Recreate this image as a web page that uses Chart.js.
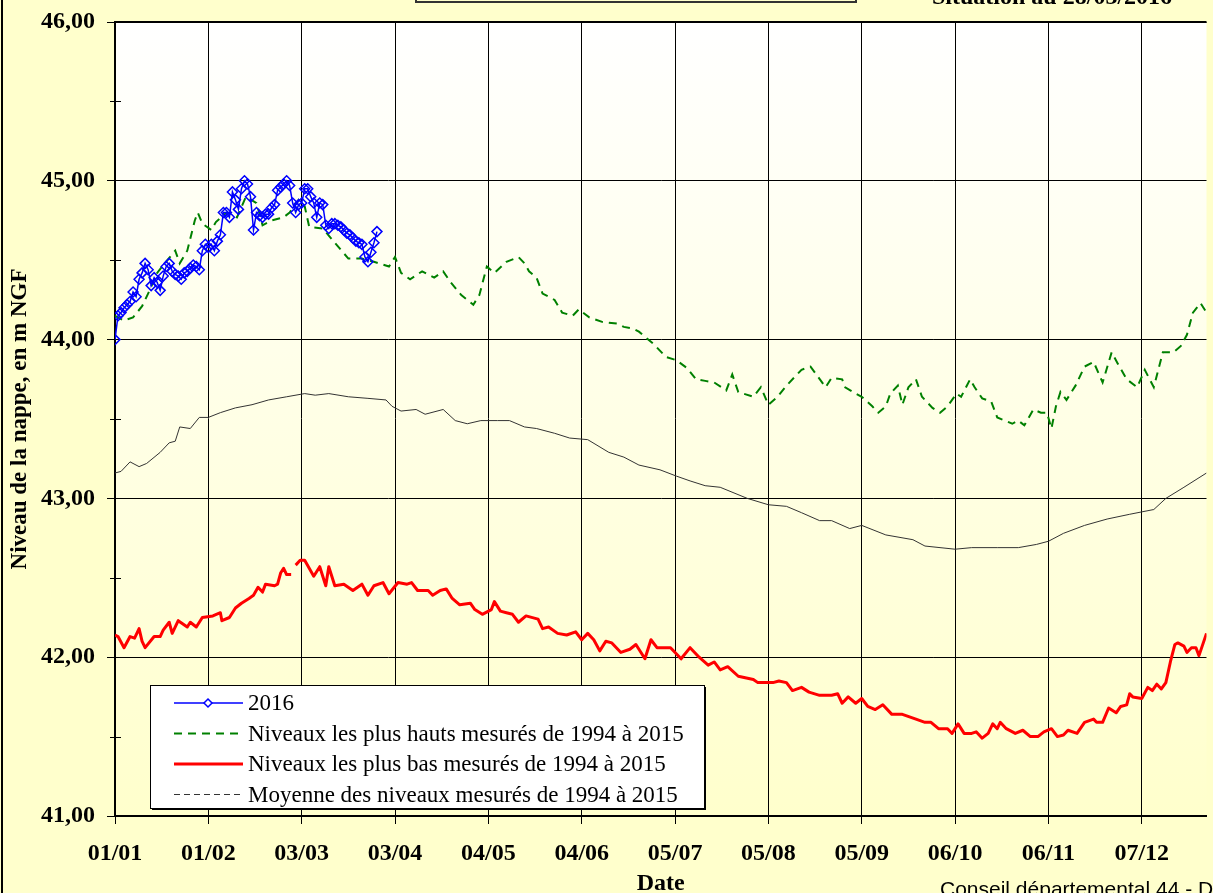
<!DOCTYPE html>
<html>
<head>
<meta charset="utf-8">
<script src="https://cdn.jsdelivr.net/npm/chart.js@4.4.0/dist/chart.umd.min.js"></script>
<style>
	html, body { margin: 0; padding: 0; background: #ffffcc; }
	#wrap { width: 1213px; height: 893px; position: relative; }
</style>
</head>
<body>
<div id="wrap"><canvas id="myChart"></canvas></div>
<script>
// 2016 : un relevé par jour depuis le 01/01 (jusqu'au 28/03)
const niveaux2016 = [
	44.00, 44.15, 44.17, 44.20, 44.22, 44.24, 44.30, 44.27, 44.38, 44.42,
	44.48, 44.44, 44.34, 44.39, 44.36, 44.31, 44.40, 44.46, 44.48, 44.43,
	44.41, 44.40, 44.38, 44.42, 44.43, 44.45, 44.47, 44.46, 44.44, 44.56,
	44.60, 44.58, 44.60, 44.56, 44.62, 44.66, 44.80, 44.80, 44.77, 44.93,
	44.88, 44.82, 44.95, 45.00, 44.98, 44.90, 44.69, 44.80, 44.78, 44.77,
	44.79, 44.79, 44.83, 44.85, 44.94, 44.96, 44.98, 45.00, 44.97, 44.86,
	44.80, 44.85, 44.86, 44.95, 44.95, 44.90, 44.86, 44.77, 44.86, 44.85,
	44.72, 44.70, 44.73, 44.73, 44.72, 44.71, 44.69, 44.67, 44.66, 44.64,
	44.62, 44.61, 44.60, 44.52, 44.49, 44.55, 44.61, 44.68
];

// plus hauts niveaux 1994-2015 (jour de l'année, niveau)
const joursMax = [0, 3, 6, 9, 11.5, 14, 16.5, 20, 21.5, 24, 26.5, 27.5, 29, 32, 33.5, 37, 40.5, 43.5, 47, 49,
	52, 56, 58, 61, 63, 64.5, 69, 73, 77.5, 82, 86, 91, 93, 95, 98, 102, 106, 109, 111.5, 115,
	119, 121, 123.5, 126, 130, 134, 136, 137.5, 140, 142, 146, 148.5, 152, 154, 157.5, 162, 167, 169, 172, 174,
	179, 183, 186.5, 190, 193, 196, 199, 203, 205, 207, 212, 214.5, 217, 220, 223, 225.5, 228, 231, 236, 238,
	241.5, 242.5, 246, 248, 251.5, 253.5, 256, 257.5, 260, 261.5, 263.5, 266, 268, 271.5, 274, 276.5, 279.5, 281, 284, 285.5,
	288, 291, 293, 298, 300, 302, 305, 307.5, 309.5, 311, 312.5, 314, 316, 319, 322, 325, 328, 331, 333, 336,
	339.5, 342, 345, 348, 351.5, 354, 356, 358, 360.5, 362.5];
const niveauxMax = [44.15, 44.12, 44.14, 44.21, 44.31, 44.42, 44.48, 44.56, 44.48, 44.56, 44.75, 44.80, 44.73, 44.69, 44.74, 44.80, 44.77, 44.90, 44.86, 44.72,
	44.75, 44.77, 44.80, 44.88, 44.84, 44.71, 44.70, 44.61, 44.51, 44.51, 44.49, 44.46, 44.52, 44.42, 44.38, 44.43, 44.39, 44.43, 44.36, 44.28,
	44.22, 44.28, 44.46, 44.42, 44.49, 44.52, 44.48, 44.43, 44.39, 44.29, 44.25, 44.17, 44.15, 44.19, 44.14, 44.11, 44.10, 44.08, 44.07, 44.05,
	43.97, 43.89, 43.87, 43.82, 43.75, 43.74, 43.73, 43.68, 43.78, 43.67, 43.64, 43.70, 43.59, 43.64, 43.71, 43.76, 43.81, 43.83, 43.70, 43.76,
	43.75, 43.70, 43.66, 43.64, 43.58, 43.54, 43.58, 43.66, 43.71, 43.59, 43.70, 43.75, 43.64, 43.57, 43.54, 43.58, 43.66, 43.64, 43.75, 43.70,
	43.63, 43.61, 43.51, 43.47, 43.49, 43.46, 43.56, 43.54, 43.54, 43.44, 43.58, 43.67, 43.62, 43.71, 43.83, 43.86, 43.73, 43.92, 43.85, 43.75,
	43.70, 43.81, 43.70, 43.92, 43.92, 43.96, 44.03, 44.17, 44.23, 44.17];

// plus bas niveaux 1994-2015 (null = lacune)
const joursMin = [0, 1, 3, 5, 6.5, 8, 9, 10, 13, 15, 16, 18, 19, 21, 24, 25, 27, 29, 32.5, 35,
	35.5, 38, 40, 42, 44.5, 46, 47.5, 49, 50, 53, 54, 55, 56, 57, 58.5, 59.2, 60, 61.5, 63, 66,
	68, 70, 71, 73, 76, 79, 82, 84, 86, 89, 91, 94, 97, 98.5, 100.5, 104, 105.5, 108, 110, 112,
	114.5, 118, 119.5, 122, 125, 126, 128, 130, 132, 134, 136.5, 140.5, 142, 144, 147, 150, 153, 155, 157, 159,
	161, 163, 165, 168, 171, 173, 176, 178, 180, 184.5, 188, 191, 194, 197, 199, 201, 203.5, 207, 212, 213.5,
	218.5, 220.5, 223, 225, 228, 230.5, 234, 238, 240, 241.5, 243.5, 246, 248, 250, 252.5, 255, 258, 261.5, 266, 269,
	271, 273.5, 276.5, 278, 280, 282, 284.5, 286, 288, 290, 291.5, 293, 294, 296, 299, 301.5, 304, 306.5, 308.5, 311,
	313, 315, 316.5, 319.5, 322, 325, 326, 328, 330, 332.5, 334, 336, 337, 338, 341, 343, 344.5, 346, 347.5, 349,
	350.5, 352, 353, 355, 356, 357.5, 359, 360, 362.5];
const niveauxMin = [42.14, 42.13, 42.06, 42.13, 42.12, 42.18, 42.10, 42.06, 42.13, 42.13, 42.17, 42.22, 42.15, 42.23, 42.19, 42.22, 42.19, 42.25, 42.26, 42.28,
	42.23, 42.25, 42.31, 42.34, 42.37, 42.39, 42.44, 42.41, 42.46, 42.45, 42.46, 42.53, 42.56, 42.52, 42.52, null, 42.58, 42.61, 42.61, 42.51,
	42.57, 42.45, 42.57, 42.45, 42.46, 42.42, 42.46, 42.39, 42.45, 42.47, 42.40, 42.47, 42.46, 42.47, 42.42, 42.42, 42.39, 42.42, 42.43, 42.37,
	42.33, 42.34, 42.30, 42.27, 42.30, 42.35, 42.29, 42.28, 42.27, 42.22, 42.26, 42.24, 42.18, 42.19, 42.15, 42.14, 42.16, 42.11, 42.15, 42.11,
	42.04, 42.10, 42.09, 42.03, 42.05, 42.08, 41.99, 42.11, 42.06, 42.06, 41.99, 42.06, 42.00, 41.95, 41.97, 41.92, 41.94, 41.88, 41.86, 41.84,
	41.84, 41.85, 41.84, 41.79, 41.81, 41.78, 41.76, 41.76, 41.77, 41.71, 41.75, 41.71, 41.74, 41.69, 41.67, 41.70, 41.64, 41.64, 41.61, 41.59,
	41.59, 41.55, 41.55, 41.52, 41.58, 41.52, 41.52, 41.53, 41.49, 41.52, 41.58, 41.55, 41.59, 41.55, 41.52, 41.54, 41.50, 41.50, 41.53, 41.55,
	41.50, 41.51, 41.54, 41.52, 41.59, 41.61, 41.59, 41.59, 41.68, 41.65, 41.69, 41.70, 41.77, 41.75, 41.74, 41.81, 41.79, 41.83, 41.80, 41.84,
	41.97, 42.08, 42.09, 42.07, 42.03, 42.06, 42.06, 42.01, 42.15];

// moyenne 1994-2015
const joursMoy = [0, 2, 5, 8, 10.5, 15, 18, 20, 21.5, 25, 28, 31, 35, 40, 45.5, 51, 57, 63, 66.5, 71,
	77.5, 84, 90, 92, 95, 100, 103, 109, 113, 117, 121.5, 127, 131, 136, 140, 146, 151, 157, 164, 169,
	174, 181, 186.5, 191, 196, 201, 210, 217, 223, 228, 234, 238, 244, 248, 256, 265, 269, 279, 284.5, 293,
	300, 306, 310, 315, 322, 329.5, 337, 345, 349, 355, 362.5];
const niveauxMoy = [43.16, 43.17, 43.23, 43.20, 43.22, 43.29, 43.35, 43.36, 43.45, 43.44, 43.51, 43.51, 43.54, 43.57, 43.59, 43.62, 43.64, 43.66, 43.65, 43.66,
	43.64, 43.63, 43.62, 43.58, 43.55, 43.56, 43.53, 43.56, 43.49, 43.47, 43.49, 43.49, 43.49, 43.45, 43.44, 43.41, 43.38, 43.37, 43.29, 43.26,
	43.21, 43.18, 43.14, 43.11, 43.08, 43.07, 43.00, 42.96, 42.95, 42.91, 42.86, 42.86, 42.81, 42.83, 42.77, 42.74, 42.70, 42.68, 42.69, 42.69,
	42.69, 42.71, 42.73, 42.78, 42.83, 42.87, 42.90, 42.93, 43.00, 43.07, 43.16];

// graduations de l'axe des dates
const tickJours = [0, 31, 62, 93, 124, 155, 186, 217, 248, 279, 310, 341];
const tickLabels = ['01/01', '01/02', '03/03', '03/04', '04/05', '04/06', '05/07', '05/08', '05/09', '06/10', '06/11', '07/12'];

const serif = '"Liberation Serif", "Times New Roman", serif';

function points(jours, niveaux) {
	return jours.map((j, i) => ({ x: j, y: niveaux[i] }));
}

const fond = {
	id: 'fond',
	beforeDraw(chart) {
		const { ctx, chartArea: a, width, height } = chart;
		ctx.save();
		ctx.fillStyle = '#ffffcc';
		ctx.fillRect(0, 0, width, height);
		let g = ctx.createLinearGradient(0, a.top, 0, a.bottom);
		g.addColorStop(0, '#ffffff');
		g.addColorStop(1, '#ffffcc');
		ctx.fillStyle = g;
		ctx.fillRect(a.left, a.top, a.right - a.left, a.bottom - a.top);
		// cadre du graphique
		ctx.strokeStyle = '#000';
		ctx.lineWidth = 2;
		ctx.beginPath();
		ctx.moveTo(2, 0);
		ctx.lineTo(2, height);
		ctx.stroke();
		// cadre du titre (coupé en haut)
		ctx.strokeStyle = '#333';
		ctx.strokeRect(416, -40, 440, 42);
		ctx.restore();
	},
	afterDraw(chart) {
		const { ctx, chartArea: a } = chart;
		const y = chart.scales.y;
		ctx.save();
		// bord haut de la zone de traçage
		ctx.strokeStyle = '#000';
		ctx.lineWidth = 2;
		ctx.beginPath();
		ctx.moveTo(a.left, a.top);
		ctx.lineTo(a.right, a.top);
		ctx.stroke();
		// petites graduations
		ctx.lineWidth = 1;
		for (let v = 41.5; v < 46; v += 1) {
			let py = Math.round(y.getPixelForValue(v)) + 0.5;
			ctx.beginPath();
			ctx.moveTo(a.left - 5, py);
			ctx.lineTo(a.left + 6, py);
			ctx.stroke();
		}

		// légende
		const lx = 150, ly = 685, lw = 554, lh = 123;
		ctx.fillStyle = '#000';
		ctx.fillRect(lx + 2, ly + 2, lw, lh);
		ctx.fillStyle = '#fff';
		ctx.fillRect(lx, ly, lw, lh);
		ctx.strokeRect(lx + 0.5, ly + 0.5, lw, lh);
		chart.data.datasets.forEach((ds, i) => {
			let py = ly + 18 + i * 30.5;
			ctx.strokeStyle = ds.borderColor;
			ctx.lineWidth = ds.borderWidth;
			ctx.setLineDash(ds.legendDash || ds.borderDash || []);
			ctx.beginPath();
			ctx.moveTo(lx + 24, py);
			ctx.lineTo(lx + 93, py);
			ctx.stroke();
			ctx.setLineDash([]);
			if (ds.pointRadius) {
				let r = 4, cx = lx + 58;
				ctx.fillStyle = '#fff';
				ctx.beginPath();
				ctx.moveTo(cx, py - r); ctx.lineTo(cx + r, py); ctx.lineTo(cx, py + r); ctx.lineTo(cx - r, py); ctx.closePath();
				ctx.fill();
				ctx.lineWidth = 1.5;
				ctx.stroke();
			}
			ctx.fillStyle = '#000';
			ctx.font = '23px ' + serif;
			ctx.textBaseline = 'middle';
			ctx.textAlign = 'left';
			ctx.fillText(ds.label, lx + 98, py + 1);
		});

		// textes coupés en bord d'image
		ctx.font = 'bold 24px ' + serif;
		ctx.textBaseline = 'alphabetic';
		ctx.fillText('Situation au 28/03/2016', 932, 4);
		ctx.font = '21px "Liberation Sans", Arial, sans-serif';
		ctx.fillText('Conseil départemental 44 - D', 940, 896);
		ctx.restore();
	}
};

window.addEventListener("load", function() {
	let data = {
		datasets: [
			{
				label: '2016',
				data: niveaux2016.map((v, i) => ({ x: i, y: v })),
				borderColor: '#0000ff',
				borderWidth: 1.5,
				pointStyle: 'rectRot',
				pointRadius: 5,
				pointBorderColor: '#0000ff',
				pointBackgroundColor: 'rgba(255,255,255,0)',
				pointBorderWidth: 1.5
			},
			{
				label: 'Niveaux les plus hauts mesurés de 1994 à 2015',
				data: points(joursMax, niveauxMax),
				borderColor: '#008000',
				borderWidth: 2,
				borderDash: [8, 6],
				pointRadius: 0
			},
			{
				label: 'Niveaux les plus bas mesurés de 1994 à 2015',
				data: points(joursMin, niveauxMin),
				borderColor: '#ff0000',
				borderWidth: 3,
				borderJoinStyle: 'round',
				pointRadius: 0,
				spanGaps: false
			},
			{
				label: 'Moyenne des niveaux mesurés de 1994 à 2015',
				data: points(joursMoy, niveauxMoy),
				borderColor: '#333333',
				borderWidth: 1,
				legendDash: [6, 4],
				pointRadius: 0
			}
		]
	};

	let options = {
		responsive: true,
		maintainAspectRatio: false,
		animation: false,
		layout: { padding: { top: 22, right: 0, left: 0, bottom: 0 } },
		plugins: {
			legend: { display: false },
			tooltip: { enabled: false }
		},
		scales: {
			x: {
				type: 'linear',
				min: 0,
				max: 362.5,
				afterBuildTicks: s => { s.ticks = tickJours.map(v => ({ value: v })); },
				afterFit: s => { s.height = 77; s.paddingLeft = 0; s.paddingRight = 0; },
				ticks: {
					callback: (v, i) => tickLabels[i],
					autoSkip: false,
					maxRotation: 0,
					color: '#000',
					padding: 15,
					font: { family: serif, weight: 'bold', size: 24 }
				},
				grid: { color: '#000', tickColor: '#000', tickLength: 8, lineWidth: 1 },
				border: { color: '#000', width: 2 },
				title: {
					display: true,
					text: 'Date',
					color: '#000',
					font: { family: serif, weight: 'bold', size: 24, lineHeight: 0.8 },
					padding: { top: 0, bottom: 0 }
				}
			},
			y: {
				min: 41,
				max: 46,
				afterFit: s => { s.width = 115; s.paddingTop = 0; s.paddingBottom = 0; },
				ticks: {
					stepSize: 0.5,
					callback: v => Number.isInteger(v) ? v.toFixed(2).replace('.', ',') : '',
					color: '#000',
					padding: 12,
					font: { family: serif, weight: 'bold', size: 24 }
				},
				grid: {
					color: c => Number.isInteger(c.tick.value) ? '#000' : 'rgba(0,0,0,0)',
					tickColor: c => Number.isInteger(c.tick.value) ? '#000' : 'rgba(0,0,0,0)',
					tickLength: 8,
					lineWidth: 1
				},
				border: { color: '#000', width: 2 },
				title: {
					display: true,
					text: 'Niveau de la nappe, en m NGF',
					color: '#000',
					font: { family: serif, weight: 'bold', size: 23 },
					padding: { top: 6, bottom: 0 }
				}
			}
		}
	};

	const ctx = document.getElementById('myChart').getContext('2d');

	let myChart = new Chart(ctx, {
		type: 'line',
		data: data,
		options: options,
		plugins: [fond]
	});
})
</script>
</body>
</html>
